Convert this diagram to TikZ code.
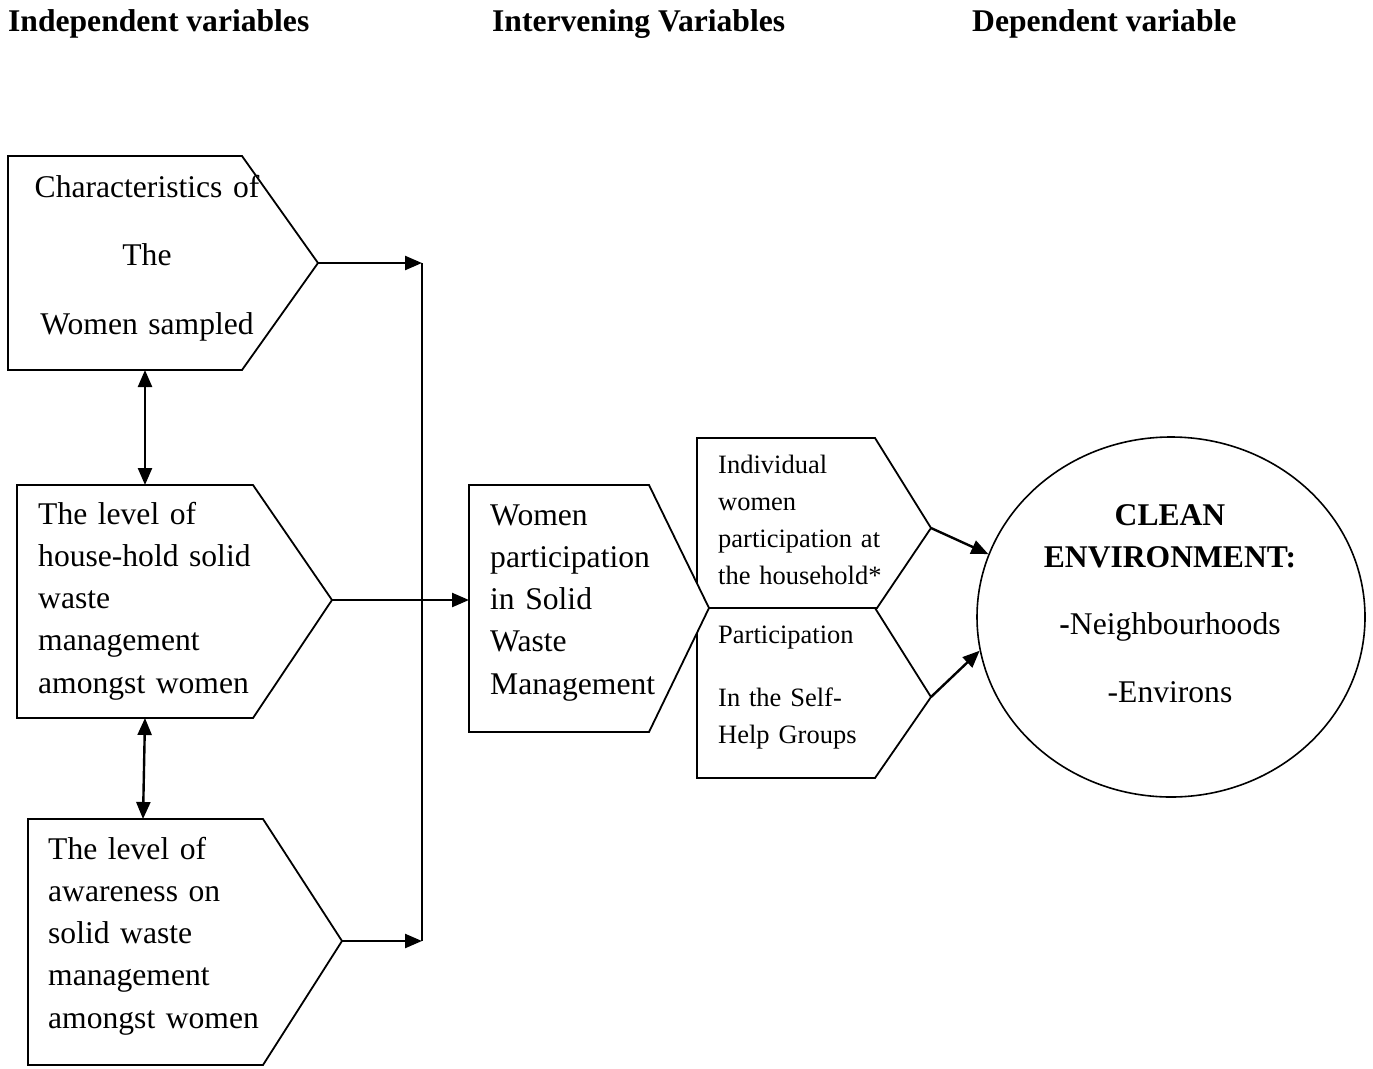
\documentclass[tikz,border=0pt]{standalone}
\usepackage{fontspec}
\setmainfont{Liberation Serif}
\usetikzlibrary{arrows.meta,shapes.geometric}
\begin{document}
\begin{tikzpicture}[x=1pt,y=-1pt,
  shapeline/.style={line width=1.8pt, line join=miter},
  conn/.style={line width=2.4pt},
  arr/.style={conn,-{Triangle[length=17pt,width=14pt]}},
  darr/.style={conn,{Triangle[length=17pt,width=14pt]}-{Triangle[length=17pt,width=14pt]}},
  bigtext/.style={font=\fontsize{31.6}{42.3}\selectfont, inner sep=0pt, text width=320pt},
  smalltext/.style={font=\fontsize{26.5}{37}\selectfont, inner sep=0pt, text width=250pt, align=left, anchor=base west},
  header/.style={font=\fontsize{31.6}{38}\selectfont\bfseries, inner sep=0pt, anchor=base west},
]
\useasboundingbox (0,0) rectangle (1373,1068);

% headers
\node[header] (h1) at (8,31) {Independent variables};
\node[header] (h2) at (492,31) {Intervening Variables};
\node[header] (h3) at (972,31) {Dependent variable};

% key coordinates
\coordinate (b1tip) at (318,263);
\coordinate (b2tip) at (332,600);
\coordinate (b3tip) at (342,941);
\coordinate (b1bot) at (145,370);
\coordinate (b2top) at (145,485);
\coordinate (b2bot) at (145,718);
\coordinate (b3top) at (143,819);
\coordinate (jtop) at (422,263);
\coordinate (jbot) at (422,941);
\coordinate (wleft) at (469,600);
\coordinate (uptip) at (931,528);
\coordinate (lotip) at (931,697);

% box 1
\draw[shapeline] (8,156) -- (242,156) -- (b1tip) -- (242,370) -- (8,370) -- cycle;
\node[bigtext, align=center, anchor=base, font=\fontsize{31.6}{68.5}\selectfont] (t1) at (147,197)
  {Characteristics of\\The\\Women sampled};

% box 2
\draw[shapeline] (17,485) -- (253,485) -- (b2tip) -- (253,718) -- (17,718) -- cycle;
\node[bigtext, align=left, anchor=base west] (t2) at (38,524)
  {The level of\\house-hold solid\\waste\\management\\amongst women};

% box 3
\draw[shapeline] (28,819) -- (263,819) -- (b3tip) -- (263,1065) -- (28,1065) -- cycle;
\node[bigtext, align=left, anchor=base west] (t3) at (48,859)
  {The level of\\awareness on\\solid waste\\management\\amongst women};

% right boxes (drawn first)
\draw[shapeline] (697,438) -- (875,438) -- (uptip) -- (877,608) -- (697,608) -- cycle;
\draw[shapeline] (697,608) -- (875,608) -- (lotip) -- (875,778) -- (697,778) -- cycle;

% women participation box (on top)
\draw[shapeline, fill=white] (469,485) -- (649,485) -- (709,608) -- (649,732) -- (469,732) -- cycle;
\node[bigtext, align=left, anchor=base west] (t4) at (490,525)
  {Women\\participation\\in Solid\\Waste\\Management};

\node[smalltext] (t5) at (718,473)
  {Individual\\women\\participation at\\the household*};
\node[smalltext] (t6) at (718,643)
  {Participation\\[26pt]In the Self-\\Help Groups};

% ellipse
\node[draw, ellipse, line width=1.6pt, minimum width=388pt, minimum height=360pt, inner sep=0pt] (circ) at (1171,617) {};
\node[bigtext, align=center, anchor=base] (t7) at (1170,525)
  {\textbf{CLEAN}\\\textbf{ENVIRONMENT:}\\[24.7pt]\textbf{-}Neighbourhoods\hspace*{22pt}\\[25.7pt]-Environs};

% connectors
\draw[arr] (b1tip) -- (jtop);
\draw[arr] (b3tip) -- (jbot);
\draw[conn] (jtop) -- (jbot);
\draw[arr] (b2tip) -- (wleft);
\draw[darr] (b1bot) -- (b2top);
\draw[darr] (b2bot) -- (b3top);
\draw[arr] (uptip) -- (circ.161);
\draw[arr] (lotip) -- (circ.190);
\end{tikzpicture}
\end{document}
